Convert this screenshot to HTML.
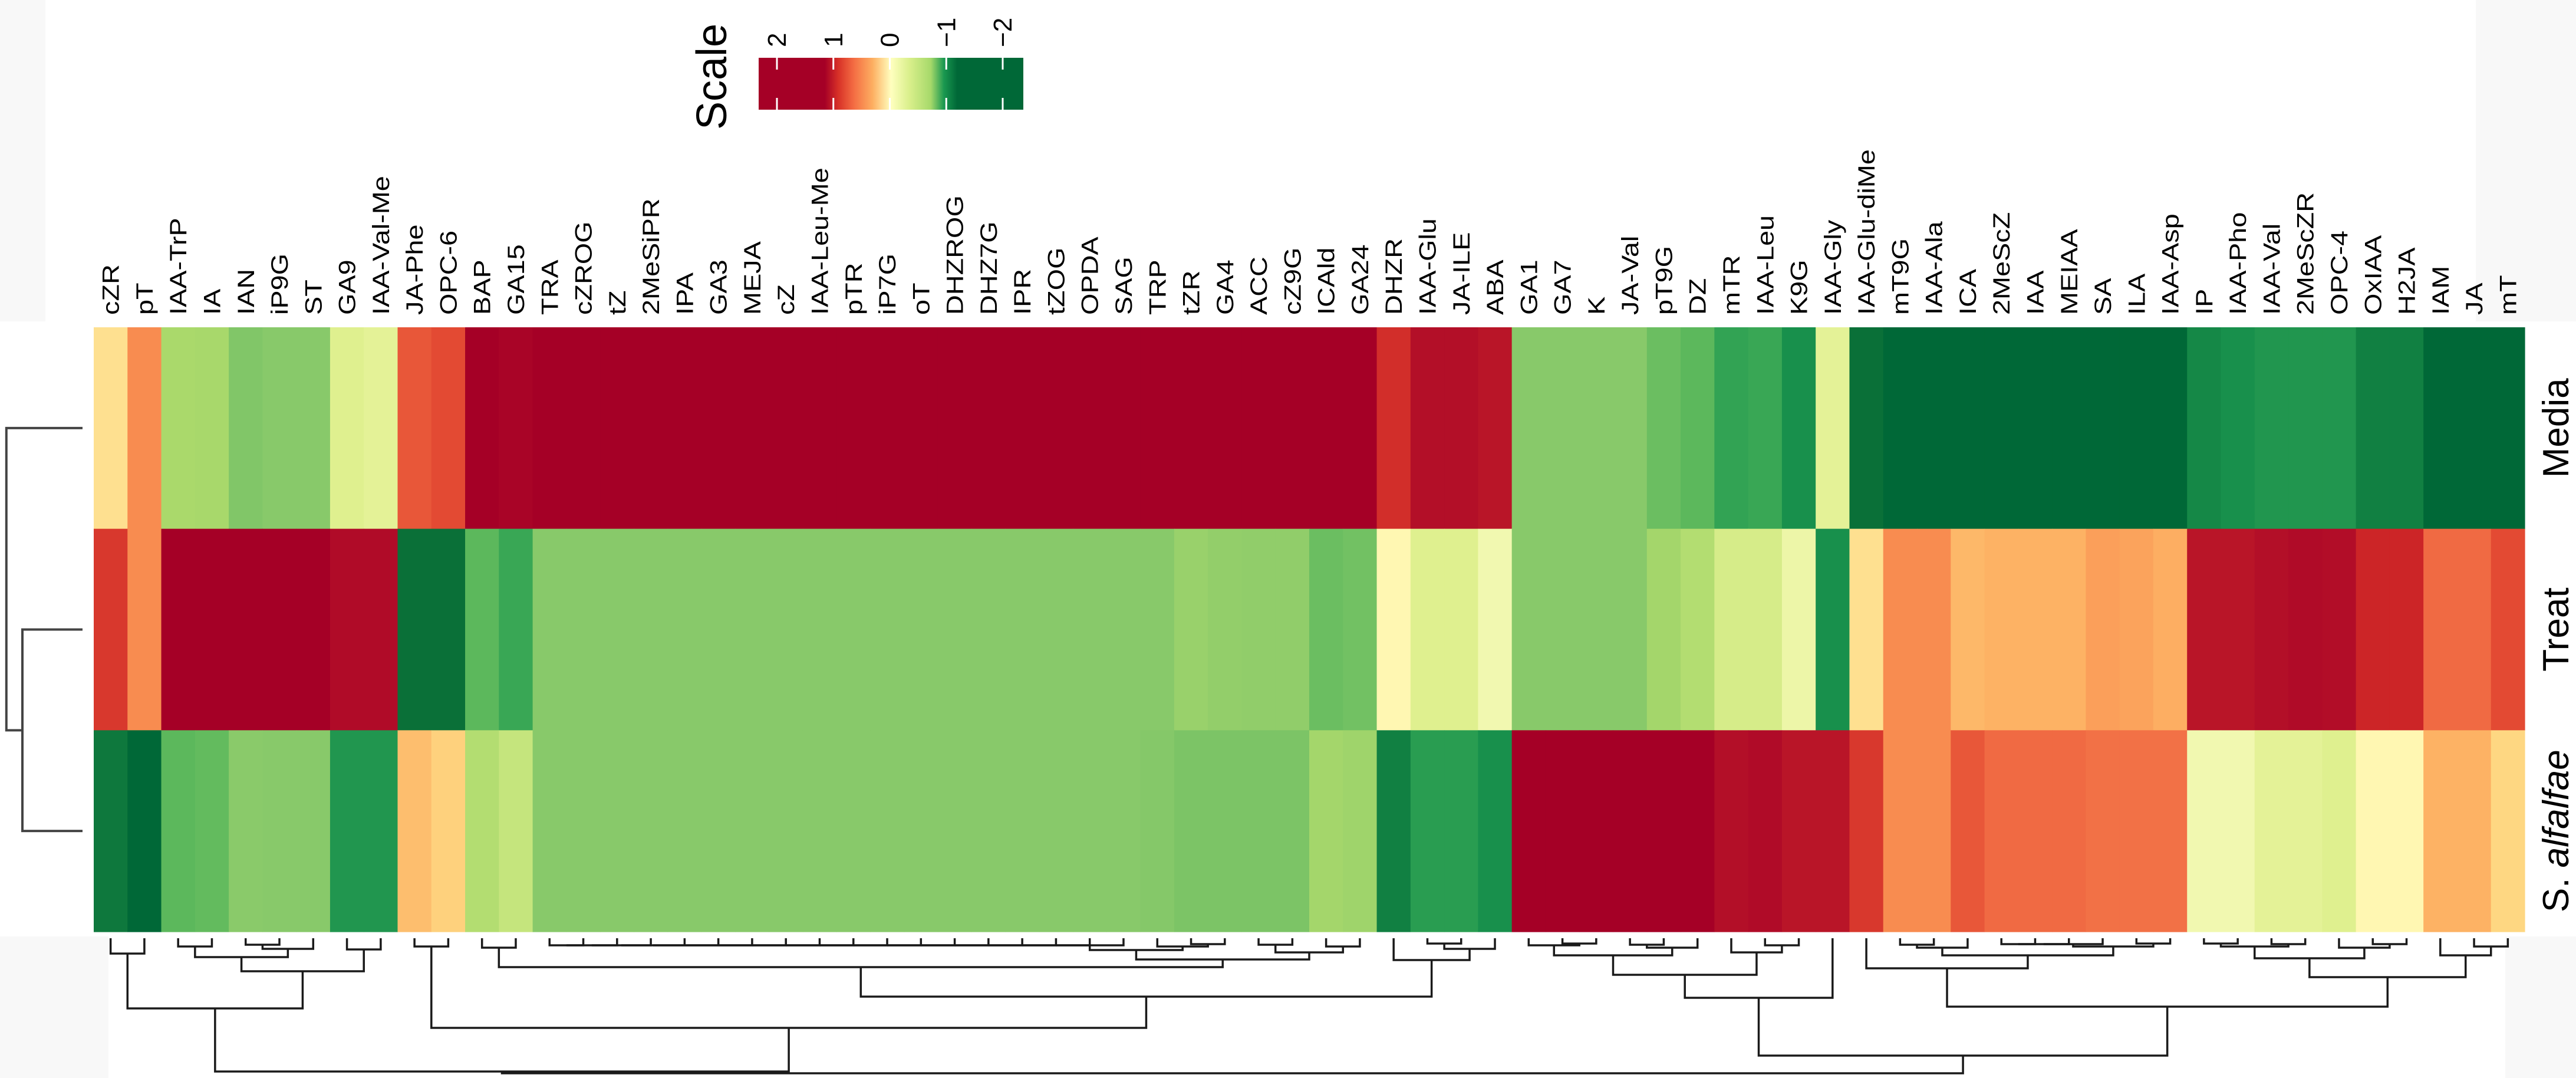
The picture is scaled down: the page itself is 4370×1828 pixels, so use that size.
<!DOCTYPE html>
<html><head><meta charset="utf-8"><style>
html,body{margin:0;padding:0;background:#fff;}
svg{display:block;font-family:"Liberation Sans",Arial,sans-serif;}
</style></head><body>
<svg id="chart" width="4370" height="1828" viewBox="0 0 4370 1828" xmlns="http://www.w3.org/2000/svg">
<rect x="0" y="0" width="4370" height="1828" fill="#ffffff"/>
<rect x="0" y="0" width="77" height="545" fill="#f8f8f8"/>
<rect x="4200" y="0" width="170" height="545" fill="#f8f8f8"/>
<rect x="0" y="1588" width="184" height="240" fill="#f8f8f8"/>
<rect x="4250" y="1588" width="120" height="240" fill="#f8f8f8"/>
<g id="legend"></g>
<g id="collabels"></g>
<g id="cells"></g>
<g id="rowlabels"></g>
<g id="rowdend"></g>
<g id="coldend"></g>
</svg>
<script>
const columns = ["cZR","pT","IAA-TrP","IA","IAN","iP9G","ST","GA9","IAA-Val-Me","JA-Phe","OPC-6","BAP","GA15","TRA","cZROG","tZ","2MeSiPR","IPA","GA3","MEJA","cZ","IAA-Leu-Me","pTR","iP7G","oT","DHZROG","DHZ7G","IPR","tZOG","OPDA","SAG","TRP","tZR","GA4","ACC","cZ9G","ICAld","GA24","DHZR","IAA-Glu","JA-ILE","ABA","GA1","GA7","K","JA-Val","pT9G","DZ","mTR","IAA-Leu","K9G","IAA-Gly","IAA-Glu-diMe","mT9G","IAA-Ala","ICA","2MeScZ","IAA","MEIAA","SA","ILA","IAA-Asp","IP","IAA-Pho","IAA-Val","2MeScZR","OPC-4","OxIAA","H2JA","IAM","JA","mT"];
const rows = ["Media","Treat","S. alfalfae"];
const mediaValues = [0.3,0.9,-0.6,-0.62,-0.95,-0.9,-0.9,-0.3,-0.25,1.3,1.4,2,1.95,2,2,2,2,2,2,2,2,2,2,2,2,2,2,2,2,2,2,2,2,2,2,2,2,2,1.55,1.8,1.8,1.75,-0.9,-0.9,-0.9,-0.9,-1.1,-1.2,-1.5,-1.45,-1.65,-0.25,-1.85,-2,-2,-2,-2,-2,-2,-2,-2,-2,-1.7,-1.65,-1.6,-1.6,-1.6,-1.75,-1.75,-2,-2,-2];
const treatValues = [1.5,0.9,2,2,2,2,2,1.85,1.85,-1.85,-1.85,-1.2,-1.45,-0.9,-0.9,-0.9,-0.9,-0.9,-0.9,-0.9,-0.9,-0.9,-0.9,-0.9,-0.9,-0.9,-0.9,-0.9,-0.9,-0.9,-0.9,-0.9,-0.75,-0.8,-0.82,-0.82,-1.1,-1.05,0.05,-0.3,-0.3,-0.1,-0.9,-0.9,-0.9,-0.9,-0.65,-0.55,-0.35,-0.35,-0.15,-1.65,0.3,0.9,0.9,0.65,0.7,0.7,0.7,0.8,0.78,0.72,1.75,1.75,1.8,1.85,1.82,1.6,1.6,1.15,1.15,1.4];
const alfalfaeValues = [-1.8,-2,-1.2,-1.15,-0.88,-0.9,-0.9,-1.6,-1.6,0.6,0.45,-0.55,-0.45,-0.9,-0.9,-0.9,-0.9,-0.9,-0.9,-0.9,-0.9,-0.9,-0.9,-0.9,-0.9,-0.9,-0.9,-0.9,-0.9,-0.9,-0.9,-0.92,-0.98,-0.98,-0.98,-0.98,-0.65,-0.7,-1.75,-1.55,-1.55,-1.65,2,2,2,2,2,2,1.8,1.85,1.75,1.75,1.5,0.9,0.9,1.3,1.15,1.15,1.15,1.1,1.1,1.1,-0.1,-0.1,-0.25,-0.25,-0.3,0.05,0.05,0.7,0.7,0.4];
const scaleTicks = ["2","1","0","\u22121","\u22122"];
const scaleTickValues = [2,1,0,-1,-2];
// row dendrogram: [left, right, height]
const rowTree = [0,[1,2,150],190];
// column dendrogram as nested merges [left, right, height]
function chain(a,b,d){let t=a;for(let i=a+1;i<=b;i++){t=[t,i,d];}return t;}
const colTree = [
 [
  [[0,1,20],[[[2,3,8],[[4,5,5],6,12],26],[7,8,13],50],113],
  [[9,10,8],[[[11,12,10],[[chain(13,30,6),[31,[32,33,4],8],14],[[34,35,5],[36,37,8],18],30],43],[38,[[39,40,3],41,12],31],93],146],
  220],
 [
  [[[[42,[43,44,3],6],[[45,46,5],47,10],23],[48,[49,50,6],18],56],51,95],
  [[52,[[[53,54,5],55,10],[chain(56,59,4),[60,61,3],8],23],45],[[[[62,63,3],[64,65,4],8],[66,[67,68,4],10],28],[69,[70,71,8],23],60],110],
  193],
 223];

const NS="http://www.w3.org/2000/svg";
const HX0=159, HX1=4283, HY0=555, HY1=1580;
const colW=(HX1-HX0)/columns.length, rowH=(HY1-HY0)/rows.length;
const xCenter=i=>HX0+(i+0.5)*colW;
const yCenter=r=>HY0+(r+0.5)*rowH;
const stops=[[2,"#a50026"],[1.8,"#b30f28"],[1.6,"#cc2527"],[1.4,"#e34a33"],[1.15,"#f06a43"],[0.9,"#f88c50"],[0.7,"#fdb264"],[0.4,"#fed782"],[0.05,"#fff7b2"],[-0.1,"#f1f8b0"],[-0.3,"#dff08f"],[-0.6,"#aad96b"],[-0.9,"#88c96a"],[-1.2,"#5cb85c"],[-1.5,"#32a354"],[-1.65,"#18904c"],[-1.85,"#0a7038"],[-2,"#006837"]];
function hex(h){return [1,3,5].map(i=>parseInt(h.substr(i,2),16));}
function color(v){
  v=Math.max(-2,Math.min(2,v));
  for(let i=0;i<stops.length-1;i++){
    const [a,ca]=stops[i],[b,cb]=stops[i+1];
    if(v<=a&&v>=b){const t=(a-v)/(a-b);const A=hex(ca),B=hex(cb);
      return "rgb("+A.map((c,k)=>Math.round(c+(B[k]-c)*t)).join(",")+")";}
  }
  return stops[stops.length-1][1];
}
function mk(tag,attrs,parent){const e=document.createElementNS(NS,tag);for(const k in attrs)e.setAttribute(k,attrs[k]);parent.appendChild(e);return e;}

// cells
const cells=document.getElementById("cells");
[mediaValues,treatValues,alfalfaeValues].forEach((vals,r)=>{
  vals.forEach((v,i)=>{
    const el=mk("rect",{x:HX0+i*colW,y:HY0+r*rowH,width:colW+0.6,height:rowH+0.6,fill:color(v)},cells);
    
    
  });
});
// column labels
const cl=document.getElementById("collabels");
columns.forEach((c,i)=>{
  const t=mk("text",{transform:"translate("+(xCenter(i)+14)+",534) rotate(-90) scale(1.17,1)","font-size":"40",fill:"#000"},cl);
  t.textContent=c;
  
  
});
// row labels
const rl=document.getElementById("rowlabels");
rows.forEach((r,i)=>{
  const t=mk("text",{transform:"translate(4357,"+yCenter(i)+") rotate(-90)","font-size":"62","text-anchor":"middle",fill:"#000"},rl);
  if(i===2){const s1=mk("tspan",{},t);s1.textContent="S. ";const s2=mk("tspan",{"font-style":"italic"},t);s2.textContent="alfalfae";}
  else t.textContent=r;
  
  
});
// row dendrogram
const rd=document.getElementById("rowdend");
const rdX=d=>140-d*0.68;
function drawRow(node){
  if(typeof node==="number")return {p:yCenter(node),d:0};
  const L=drawRow(node[0]),R=drawRow(node[1]),d=node[2];
  const path="M"+rdX(L.d)+","+L.p+"H"+rdX(d)+"V"+R.p+"H"+rdX(R.d);
  const e=mk("path",{d:path,fill:"none",stroke:"#444","stroke-width":"4"},rd);
  
  
  return {p:(L.p+R.p)/2,d:d};
}
drawRow(rowTree);
// column dendrogram
const cd=document.getElementById("coldend");
const cdY=d=>1597+d;
function drawCol(node){
  if(typeof node==="number")return {p:xCenter(node),d:-6};
  const L=drawCol(node[0]),R=drawCol(node[1]),d=node[2];
  const path="M"+L.p+","+cdY(L.d)+"V"+cdY(d)+"H"+R.p+"V"+cdY(R.d);
  const e=mk("path",{d:path,fill:"none",stroke:"#1a1a1a","stroke-width":"3.5"},cd);
  
  
  return {p:(L.p+R.p)/2,d:d};
}
drawCol(colTree);
// legend
const lg=document.getElementById("legend");
const defs=mk("defs",{},lg);
const grad=mk("linearGradient",{id:"scaleGrad",x1:"0",x2:"1",y1:"0",y2:"0"},defs);
[[0,"#a50026"],[0.25,"#a50026"],[0.3,"#d73027"],[0.36,"#f46d43"],[0.43,"#fdae61"],[0.5,"#ffffbf"],[0.57,"#d9ef8b"],[0.65,"#a6d96a"],[0.7,"#1a9850"],[0.75,"#006837"],[1,"#006837"]].forEach(s=>mk("stop",{offset:s[0],"stop-color":s[1]},grad));
const bar=mk("rect",{x:1287,y:98,width:449,height:88,fill:"url(#scaleGrad)"},lg);


const st=mk("text",{transform:"translate(1232,130) rotate(-90)","font-size":"72","text-anchor":"middle",fill:"#000"},lg);
st.textContent="Scale";


const sx=v=>1318+(2-v)*95.75;
scaleTicks.forEach((lab,i)=>{
  const x=sx(scaleTickValues[i]);
  const tk=mk("path",{d:"M"+x+",98V118M"+x+",166V186",stroke:"#fff","stroke-width":"3"},lg);
  
  
  const t=mk("text",{transform:"translate("+(x+15)+",80) rotate(-90)","font-size":"44",fill:"#000"},lg);
  t.textContent=lab;
  
  
});
</script>
</body></html>
